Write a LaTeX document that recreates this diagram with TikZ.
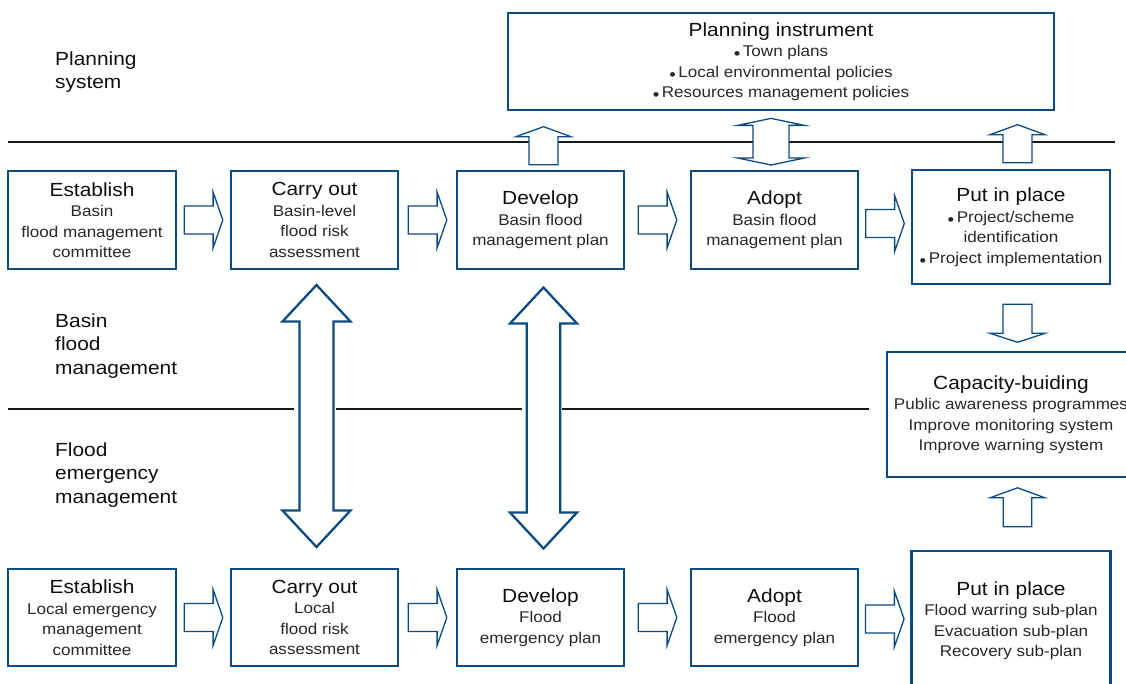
\documentclass[tikz,border=0pt]{standalone}
\usepackage{fontspec}
\setmainfont{Liberation Sans}[FakeStretch=1.1]
\usetikzlibrary{calc}
\definecolor{fblue}{RGB}{13,74,128}
\definecolor{hdtext}{RGB}{15,15,15}
\definecolor{bdtext}{RGB}{40,40,40}
\newcommand{\hd}[1]{{\fontsize{19}{20.5}\selectfont\color{hdtext}#1}}
\newcommand{\bul}{{\fontsize{17}{17}\selectfont\raisebox{-3pt}{\textbullet}}\,}
\tikzset{
  box/.style={draw=fblue, line width=2.6pt, fill=white, align=center, inner sep=0pt,
    font=\fontsize{15.5}{20.5}\selectfont, text=bdtext},
  blockarrow/.style={draw=fblue, line width=1.3pt, fill=white, line join=miter},
  bigarrow/.style={draw=fblue, line width=2.3pt, fill=white, line join=miter},
  sepline/.style={draw=black!90, line width=2.8pt},
  sepline2/.style={draw=black!90, line width=2.3pt},
  lbl/.style={anchor=west, align=left, inner sep=0pt, font=\fontsize{19}{23.5}\selectfont, text=hdtext},
  pics/uarr/.style n args={4}{code={\path[blockarrow] (-#4,#1) -- (-#4,-#1+#2) -- (-#3,-#1+#2) -- (0,-#1) -- (#3,-#1+#2) -- (#4,-#1+#2) -- (#4,#1) -- cycle;}},
  pics/darr/.style n args={4}{code={\path[blockarrow] (-#4,-#1) -- (-#4,#1-#2) -- (-#3,#1-#2) -- (0,#1) -- (#3,#1-#2) -- (#4,#1-#2) -- (#4,-#1) -- cycle;}},
  pics/rarr/.style n args={4}{code={\path[blockarrow] (-#1,-#4) -- (#1-#2,-#4) -- (#1-#2,-#3) -- (#1,0) -- (#1-#2,#3) -- (#1-#2,#4) -- (-#1,#4) -- cycle;}},
  pics/dblv/.style n args={5}{code={\path[#5] (-#4,#1-#2) -- (-#4,-#1+#2) -- (-#3,-#1+#2) -- (0,-#1) -- (#3,-#1+#2) -- (#4,-#1+#2) -- (#4,#1-#2) -- (#3,#1-#2) -- (0,#1) -- (-#3,#1-#2) -- cycle;}},
}
\begin{document}
\begin{tikzpicture}[x=1pt,y=-1pt]
\useasboundingbox (0,0) rectangle (1126,684);
\clip (0,0) rectangle (1126,684);

% separator lines
\draw[sepline] (8,142) -- (1115,142);
\draw[sepline2] (8,409) -- (294,409);
\draw[sepline2] (336,409) -- (522,409);
\draw[sepline2] (562,409) -- (869,409);

% row labels
\node[lbl] (lplan) at (55,72) {Planning\\system};
\node[lbl] (lbasin) at (55,346) {Basin\\flood\\management};
\node[lbl] (lflood) at (55,475) {Flood\\emergency\\management};

% boxes
\node[box, minimum width=546, minimum height=97] (pi) at (781,61.5)
  {\hd{Planning instrument}\\\bul Town plans\\\bul Local environmental policies\\\bul Resources management policies};

\node[box, minimum width=168, minimum height=98] (b1) at (92,220)
  {\hd{Establish}\\Basin\\flood management\\committee};
\node[box, minimum width=167, minimum height=98] (b2) at (314.5,220)
  {\hd{Carry out}\\Basin-level\\flood risk\\assessment};
\node[box, minimum width=167, minimum height=98] (b3) at (540.5,220)
  {\hd{Develop}\\Basin flood\\management plan};
\node[box, minimum width=167, minimum height=98] (b4) at (774.5,220)
  {\hd{Adopt}\\Basin flood\\management plan};
\node[box, minimum width=198, minimum height=114] (b5) at (1011,227)
  {\hd{Put in place}\\\bul Project/scheme\\identification\\\bul Project implementation};

\node[box, minimum width=248, minimum height=125] (cap) at (1011,414.5)
  {\hd{Capacity-buiding}\\Public awareness programmes\\Improve monitoring system\\Improve warning system};

\node[box, minimum width=168, minimum height=97] (c1) at (92,617.5)
  {\hd{Establish}\\Local emergency\\management\\committee};
\node[box, minimum width=167, minimum height=97] (c2) at (314.5,617.5)
  {\hd{Carry out}\\Local\\flood risk\\assessment};
\node[box, minimum width=167, minimum height=97] (c3) at (540.5,617.5)
  {\hd{Develop}\\Flood\\emergency plan};
\node[box, minimum width=167, minimum height=97] (c4) at (774.5,617.5)
  {\hd{Adopt}\\Flood\\emergency plan};
\node[box, minimum width=199, minimum height=139] (c5) at (1011,620.5)
  {\hd{Put in place}\\Flood warring sub-plan\\Evacuation sub-plan\\Recovery sub-plan};

% horizontal block arrows
\pic (h1) at ($(b1.east)!0.5!(b2.west)$) {rarr={19.3}{9.7}{28}{14}};
\pic (h2) at ($(b2.east)!0.5!(b3.west)$) {rarr={19.3}{9.7}{28}{14}};
\pic (h3) at ($(b3.east)!0.5!(b4.west)$) {rarr={19.3}{9.7}{28}{14}};
\pic (h4) at ($(b4.east)!0.5!(b5.west)$) {rarr={19.3}{9.7}{28}{14}};
\pic (k1) at ($(c1.east)!0.5!(c2.west)$) {rarr={19.3}{9.7}{28}{14}};
\pic (k2) at ($(c2.east)!0.5!(c3.west)$) {rarr={19.3}{9.7}{28}{14}};
\pic (k3) at ($(c3.east)!0.5!(c4.west)$) {rarr={19.3}{9.7}{28}{14}};
\pic (k4) at ($(c4.east)!0.5!(c5.west)$) {rarr={19.3}{9.7}{28}{14}};

% vertical block arrows
\pic (v1) at ($(b3.north)+(3,-24)$) {uarr={19}{10}{27.5}{14.5}};
\pic (v2) at ($(b4.north)+(-3.5,-28)$) {dblv={23.3}{7}{33.5}{18}{blockarrow}};
\pic (v3) at ($(b5.north)+(6.5,-25)$) {uarr={19}{10}{27.5}{14.5}};
\pic (v4) at ($(b5.south)+(6.5,38)$) {darr={19}{9}{27.5}{14.5}};
\pic (v5) at ($(cap.south)+(6.5,29)$) {uarr={19.5}{10}{27.5}{14.3}};

% large double arrows
\pic (w1) at ($(b2.south)!0.5!(c2.north)+(2,-3)$) {dblv={131}{36.5}{34}{17}{bigarrow}};
\pic (w2) at ($(b3.south)!0.5!(c3.north)+(3,-1)$) {dblv={130.5}{36}{33.5}{16.7}{bigarrow}};
\end{tikzpicture}
\end{document}
